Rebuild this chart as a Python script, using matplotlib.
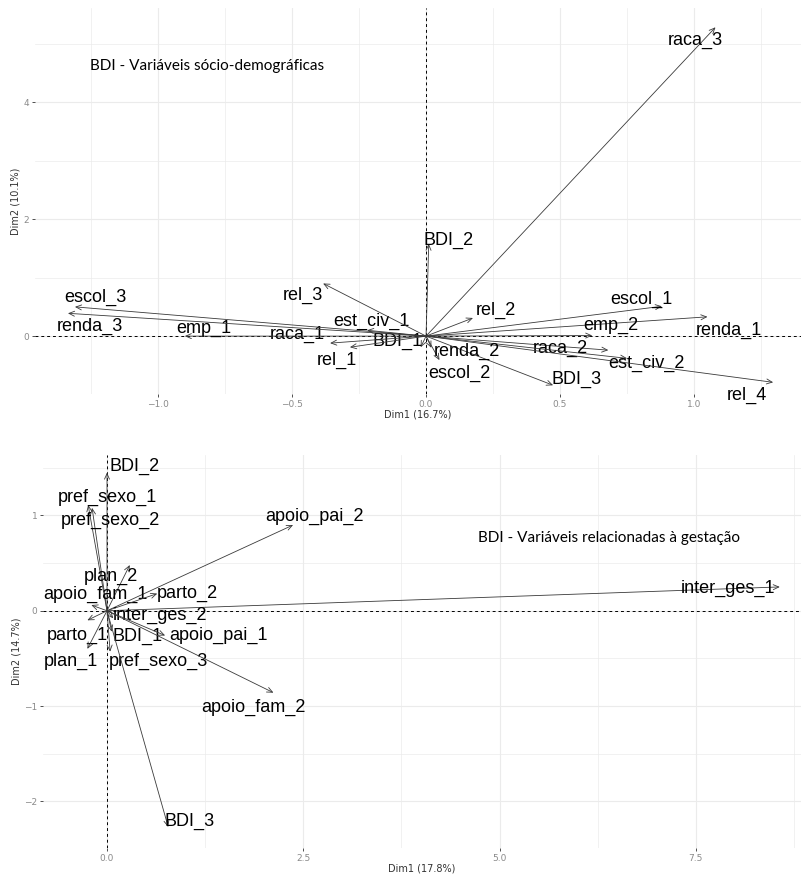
import matplotlib
matplotlib.use("Agg")
import matplotlib.pyplot as plt
from matplotlib.ticker import MultipleLocator

# Data - top panel (socio-demographic variables)
top_names = ["raca_3", "BDI_2", "rel_2", "escol_1", "renda_1", "emp_2", "raca_2",
             "est_civ_2", "rel_4", "BDI_3", "escol_2", "renda_2", "BDI_1",
             "est_civ_1", "rel_1", "raca_1", "rel_3", "emp_1", "escol_3", "renda_3"]
top_dim1 = [1.08, 0.01, 0.175, 0.88, 1.05, 0.62, 0.68,
            0.75, 1.295, 0.474, 0.05, 0.02, -0.02,
            -0.22, -0.284, -0.358, -0.384, -0.90, -1.31, -1.336]
top_dim2 = [5.28, 1.58, 0.31, 0.51, 0.33, 0.01, -0.24,
            -0.38, -0.79, -0.84, -0.41, -0.20, -0.19,
            0.10, -0.19, -0.12, 0.90, 0.0, 0.50, 0.39]

# Data - bottom panel (pregnancy related variables)
bot_names = ["BDI_2", "pref_sexo_1", "pref_sexo_2", "apoio_pai_2", "plan_2",
             "apoio_fam_1", "parto_2", "inter_ges_1", "inter_ges_2", "parto_1",
             "plan_1", "BDI_1", "apoio_pai_1", "pref_sexo_3", "apoio_fam_2", "BDI_3"]
bot_dim1 = [0.0, -0.24, -0.19, 2.37, 0.29,
            -0.20, 0.64, 8.57, 0.08, -0.25,
            -0.25, 0.06, 0.74, 0.04, 2.12, 0.78]
bot_dim2 = [1.45, 1.11, 1.08, 0.90, 0.48,
            0.06, 0.18, 0.25, -0.08, -0.10,
            -0.40, -0.22, -0.26, -0.43, -0.86, -2.27]

# Label placement (pixel offsets from arrow tip)
top_offsets = [(-20, -13), (20, 3), (23, 8), (-21, 7), (21, -14), (19, 10), (-48, 2),
               (19, -5), (-26, -13), (23, 6), (20, -13), (35, -4), (-23, 6),
               (4, 9), (-13, -13), (-33, 9), (-20, -12), (19, 8), (20, 9), (22, -13)]
bot_offsets = [(28, 6), (19, 8), (18, -13), (21, 9), (-19, -11),
               (4, 11), (30, 0), (-52, -1), (47, 3), (-10, -15),
               (-16, -13), (26, -5), (53, 0), (48, -10), (-20, -15), (21, 6)]

label_font = "Liberation Sans"
grid_color = "#EBEBEB"
arrow_color = "#3a3a3a"


def biplot(ax, names, xs, ys, offsets, xlim, ylim, xmaj, ymaj, xlabel, ylabel, title, title_xy):
    ax.set_xlim(*xlim)
    ax.set_ylim(*ylim)
    ax.xaxis.set_major_locator(MultipleLocator(xmaj))
    ax.xaxis.set_minor_locator(MultipleLocator(xmaj / 2))
    ax.yaxis.set_major_locator(MultipleLocator(ymaj))
    ax.yaxis.set_minor_locator(MultipleLocator(ymaj / 2))
    ax.grid(which="major", color=grid_color, lw=0.8)
    ax.grid(which="minor", color=grid_color, lw=0.5)
    ax.set_axisbelow(True)
    for s in ax.spines.values():
        s.set_visible(False)
    ax.tick_params(which="major", length=2, width=0.6, color="#333333",
                   labelsize=6.5, labelcolor="#8a8a8a", pad=2)
    ax.tick_params(which="minor", length=0)
    ax.axhline(0, color="black", ls=(0, (3, 3)), lw=0.7)
    ax.axvline(0, color="black", ls=(0, (3, 3)), lw=0.7)
    for name, x, y, off in zip(names, xs, ys, offsets):
        ax.annotate("", xy=(x, y), xytext=(0, 0),
                    arrowprops=dict(arrowstyle="->,head_length=0.4,head_width=0.18",
                                    color=arrow_color, lw=0.6, shrinkA=0, shrinkB=0))
        ax.annotate(name, xy=(x, y), xytext=off, textcoords="offset pixels",
                    ha="center", va="center", fontsize=13, family=label_font)
    ax.set_xlabel(xlabel, fontsize=7, color="#333333", labelpad=1)
    ax.set_ylabel(ylabel, fontsize=7, color="#333333", labelpad=2)
    ax.text(title_xy[0], title_xy[1], title, transform=ax.transAxes,
            ha="center", va="center", fontsize=11, family="Lato")


fig = plt.figure(figsize=(8.01, 8.76), dpi=100)
ax1 = fig.add_axes([0.0437, 0.5502, 0.9563, 0.4407])
ax2 = fig.add_axes([0.0537, 0.0320, 0.9463, 0.4486])

biplot(ax1, top_names, top_dim1, top_dim2, top_offsets,
       (-1.459, 1.399), (-0.99, 5.61), 0.5, 2,
       "Dim1 (16.7%)", "Dim2 (10.1%)",
       "BDI - Variáveis sócio-demográficas", (0.225, 0.85))
biplot(ax2, bot_names, bot_dim1, bot_dim2, bot_offsets,
       (-0.815, 8.84), (-2.49, 1.635), 2.5, 1,
       "Dim1 (17.8%)", "Dim2 (14.7%)",
       "BDI - Variáveis relacionadas à gestação", (0.747, 0.788))

fig.savefig("out.png", dpi=100)
